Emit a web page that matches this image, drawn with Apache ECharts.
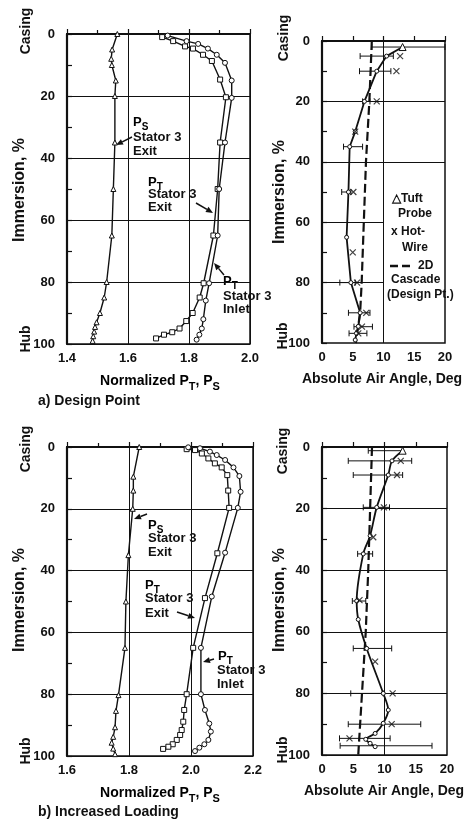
<!DOCTYPE html>
<html>
<head>
<meta charset="utf-8">
<script src="https://cdn.jsdelivr.net/npm/echarts@6/dist/echarts.min.js"></script>
<style>
  html, body { margin: 0; padding: 0; background: #fff; }
  #chart { width: 467px; height: 820px; }
</style>
</head>
<body>
<div id="chart"></div>
<script>
// ---- a) Design point: normalized pressures vs immersion ----
const aImmPS = [0, 5, 8, 10, 15, 20, 35, 50, 65, 80, 85, 90, 93, 94.5, 96, 97.5, 99];
const aPS    = [1.565, 1.548, 1.545, 1.547, 1.560, 1.557, 1.557, 1.552, 1.547, 1.530, 1.522, 1.508, 1.497, 1.492, 1.489, 1.486, 1.484];
const aImmEx = [1, 2.3, 4, 4.7, 6.7, 8.7, 14.7, 20.4, 35, 50, 65, 80.4, 85, 90, 92.6, 95, 96.2, 97, 98.2];
const aPTex  = [1.712, 1.748, 1.787, 1.813, 1.846, 1.875, 1.902, 1.921, 1.902, 1.894, 1.880, 1.848, 1.835, 1.812, 1.791, 1.769, 1.745, 1.718, 1.692];
const aImmIn = [0.5, 2.3, 3.2, 4.7, 6.7, 9.3, 15, 20.6, 35, 50, 65, 80.4, 86, 92, 95, 97, 98.6];
const aPTin  = [1.73, 1.792, 1.830, 1.862, 1.891, 1.918, 1.940, 1.940, 1.918, 1.899, 1.894, 1.866, 1.855, 1.847, 1.842, 1.834, 1.825];

// ---- a) Design point: absolute air angle ----
const aImmTuft = [2, 5, 10, 20, 30, 35, 50, 65, 80, 90, 94.5, 96.8, 99];
const aTuft    = [13.1, 10.5, 8.9, 6.9, 5.4, 4.5, 4.3, 4.0, 4.7, 6.2, 5.9, 5.6, 5.4];
const aImmHW   = [5, 10, 20, 30, 50, 70, 80, 90, 94.6, 96.8];
const aHW      = [12.7, 12.1, 8.9, 5.4, 5.1, 5.0, 5.7, 7.2, 6.5, 5.9];
const aImmErr  = [2, 5, 10, 20, 35, 50, 80, 90, 94.6, 96.8];
const aErrLo   = [8.1, 6.2, 6.1, 6.6, 3.5, 3.2, 2.9, 4.3, 5.2, 4.4];
const aErrHi   = [20, 11.6, 11.2, 7.8, 6.6, 4.7, 5.4, 7.8, 8.2, 7.3];
const aImmCas  = [0, 20, 40, 60, 80, 90, 100];
const aCas     = [8.1, 7.7, 7.15, 6.8, 6.45, 6.2, 5.5];

// ---- b) Increased loading: normalized pressures vs immersion ----
const bImmPS = [0, 9.6, 14.1, 20, 35, 50, 65, 80.3, 85.4, 90.7, 93.8, 95.7, 97.6, 99.4];
const bPS    = [1.833, 1.814, 1.814, 1.812, 1.798, 1.790, 1.787, 1.766, 1.758, 1.755, 1.749, 1.744, 1.749, 1.755];
const bImmEx = [0.7, 1.0, 2.1, 3.7, 5.3, 6.6, 9.1, 14.1, 19.7, 34.4, 48.9, 65, 80, 85.1, 88.9, 91.6, 93.2, 94.8, 96.2, 97, 97.7];
const bPTex  = [1.986, 2.013, 2.035, 2.056, 2.077, 2.099, 2.117, 2.120, 2.123, 2.085, 2.045, 2.007, 1.986, 1.978, 1.975, 1.970, 1.965, 1.954, 1.941, 1.927, 1.910];
const bImmIn = [0.1, 0.4, 1.5, 2.6, 4.2, 6.6, 9.4, 14.5, 19.7, 34.2, 48.4, 65, 80, 85.1, 89.5, 92.1, 94.8, 96.2, 97.3, 98.4];
const bPTin  = [1.991, 2.029, 2.061, 2.083, 2.110, 2.137, 2.156, 2.160, 2.151, 2.110, 2.067, 2.032, 2.032, 2.045, 2.059, 2.064, 2.056, 2.043, 2.027, 2.013];

// ---- b) Increased loading: absolute air angle ----
const bImmTuft = [1.2, 4.5, 9.1, 19.6, 28.8, 34.7, 50, 56, 65.4, 80, 85.4, 89.7, 93, 94.9, 96.2, 97.3];
const bTuft    = [12.9, 11.2, 10.6, 8.75, 7.7, 6.6, 5.55, 5.8, 7.15, 9.8, 10.6, 9.8, 8.5, 7.0, 7.7, 8.5];
const bImmHW   = [4.5, 9.1, 19.6, 29.3, 49.7, 69.7, 80, 90, 94.6];
const bHW      = [12.6, 12.0, 9.9, 8.2, 6.0, 8.5, 11.3, 11.15, 4.4];
const bImmErr  = [1.2, 4.5, 9.1, 19.6, 34.7, 50, 65.4, 80, 90, 94.6, 97];
const bErrLo   = [7.4, 4.2, 5.0, 6.6, 5.7, 4.85, 5.0, 4.6, 4.2, 2.8, 2.9];
const bErrHi   = [12.9, 14.35, 12.9, 10.8, 8.1, 7.0, 11.15, 9.8, 15.8, 10.9, 17.6];
const bImmCas  = [0, 20, 40, 60, 80, 90, 100];
const bCas     = [8.0, 7.7, 7.4, 7.0, 6.4, 6.1, 5.8];

const immTicks = [0, 20, 40, 60, 80, 100];

const FONT = "'Liberation Sans', Arial, Helvetica, sans-serif";
const INK = '#111';

function pts(xs, ys) { return xs.map((x, i) => [x, ys[i]]); }
function errRows(imm, lo, hi) { return imm.map((y, i) => [y, lo[i], hi[i]]); }

function curve(idx, vals, imm, symbol, size) {
  return {
    type: 'line', xAxisIndex: idx, yAxisIndex: idx,
    data: pts(vals, imm),
    symbol: symbol, symbolSize: size, showSymbol: true,
    lineStyle: { color: INK, width: 1.4 },
    itemStyle: { color: '#fff', borderColor: INK, borderWidth: 1 },
    z: 5, animation: false
  };
}

function tuftCurve(idx, vals, imm, smooth) {
  const d = pts(vals, imm).map((p, i) => i === 0
    ? { value: p, symbol: 'triangle', symbolSize: 7 }
    : { value: p });
  return {
    type: 'line', xAxisIndex: idx, yAxisIndex: idx, data: d,
    symbol: 'circle', symbolSize: 4, smooth: smooth,
    lineStyle: { color: INK, width: 1.8 },
    itemStyle: { color: '#fff', borderColor: INK, borderWidth: 1 },
    z: 6, animation: false
  };
}

function hotWire(idx, vals, imm) {
  return {
    type: 'scatter', xAxisIndex: idx, yAxisIndex: idx,
    data: pts(vals, imm),
    symbol: 'path://M0,0L10,10M10,0L0,10', symbolSize: 6,
    itemStyle: { color: 'none', borderColor: INK, borderWidth: 1.2 },
    z: 7, animation: false
  };
}

function errorBars(idx, rows) {
  return {
    type: 'custom', xAxisIndex: idx, yAxisIndex: idx,
    data: rows, encode: { x: [1, 2], y: 0 },
    renderItem: function (params, api) {
      const y = api.value(0), lo = api.value(1), hi = api.value(2);
      const a = api.coord([lo, y]), b = api.coord([hi, y]);
      const h = 3, st = { stroke: INK, lineWidth: 1 };
      return { type: 'group', children: [
        { type: 'line', shape: { x1: a[0], y1: a[1], x2: b[0], y2: b[1] }, style: st },
        { type: 'line', shape: { x1: a[0], y1: a[1] - h, x2: a[0], y2: a[1] + h }, style: st },
        { type: 'line', shape: { x1: b[0], y1: b[1] - h, x2: b[0], y2: b[1] + h }, style: st }
      ] };
    },
    z: 4, animation: false
  };
}

function cascade(idx, vals, imm, gridLines) {
  return {
    type: 'line', xAxisIndex: idx, yAxisIndex: idx,
    data: pts(vals, imm), symbol: 'none',
    lineStyle: { color: INK, width: 2.2, type: [9, 4] },
    z: 3, animation: false,
    markLine: {
      silent: true, symbol: 'none', animation: false,
      label: { show: false },
      lineStyle: { color: INK, width: 1, type: 'solid' },
      data: gridLines
    }
  };
}

function xAxisCfg(idx, min, max, interval, fmt, split) {
  return {
    type: 'value', gridIndex: idx, min: min, max: max, interval: interval,
    axisLine: { show: true, lineStyle: { color: INK, width: 2.2 } },
    axisTick: { show: true, inside: true, length: 5, lineStyle: { color: INK, width: 1.2 } },
    minorTick: { show: split, splitNumber: 2, length: 4, lineStyle: { color: INK, width: 1.2 } },
    axisLabel: { color: INK, fontFamily: FONT, fontWeight: 'bold', fontSize: 13, margin: 8, formatter: fmt },
    splitLine: { show: split, lineStyle: { color: INK, width: 1 } }
  };
}

function yAxisCfg(idx, split) {
  return {
    type: 'value', gridIndex: idx, min: immTicks[0], max: immTicks[immTicks.length - 1],
    interval: immTicks[1] - immTicks[0], inverse: true,
    axisLine: { show: true, lineStyle: { color: INK, width: 2.2 } },
    axisTick: { show: true, inside: true, length: 5, lineStyle: { color: INK, width: 1.2 } },
    minorTick: { show: true, splitNumber: 2, length: 5, lineStyle: { color: INK, width: 1.2 } },
    axisLabel: { color: INK, fontFamily: FONT, fontWeight: 'bold', fontSize: 13, margin: 12 },
    splitLine: { show: split, lineStyle: { color: INK, width: 1 } }
  };
}

const fmt1 = v => v.toFixed(1);
const fmt0 = v => String(v);

const rich = {
  a: { fontFamily: FONT, fontWeight: 'bold', fontSize: 14, color: INK, lineHeight: 16, verticalAlign: 'bottom' },
  s: { fontFamily: FONT, fontWeight: 'bold', fontSize: 11, color: INK, lineHeight: 11, verticalAlign: 'bottom', padding: [0, 0, -4, 0] },
  n: { fontFamily: FONT, fontWeight: 'bold', fontSize: 13, color: INK, lineHeight: 15, verticalAlign: 'bottom' },
  ns: { fontFamily: FONT, fontWeight: 'bold', fontSize: 10, color: INK, lineHeight: 10, verticalAlign: 'bottom', padding: [0, 0, -4, 0] }
};

function txt(x, y, s, size, opts) {
  return Object.assign({
    type: 'text', x: x, y: y, silent: true,
    style: { text: s, fontFamily: FONT, fontWeight: 'bold', fontSize: size, fill: INK,
             align: 'left', verticalAlign: 'middle' }
  }, opts || {});
}
function richTxt(x, y, s, align) {
  return { type: 'text', x: x, y: y, silent: true,
    style: { text: s, rich: rich, align: align || 'left', verticalAlign: 'middle' } };
}
function vtxt(x, y, s, size) {
  return { type: 'text', x: x, y: y, rotation: Math.PI / 2, silent: true,
    style: { text: s, fontFamily: FONT, fontWeight: 'bold', fontSize: size, fill: INK,
             align: 'center', verticalAlign: 'middle' } };
}
function arrow(x1, y1, x2, y2) {
  const ang = Math.atan2(y2 - y1, x2 - x1), L = 7, W = 3;
  const bx = x2 - L * Math.cos(ang), by = y2 - L * Math.sin(ang);
  const px = -Math.sin(ang) * W, py = Math.cos(ang) * W;
  return { type: 'group', silent: true, children: [
    { type: 'line', shape: { x1: x1, y1: y1, x2: bx, y2: by }, style: { stroke: INK, lineWidth: 1.5 } },
    { type: 'polygon', shape: { points: [[x2, y2], [bx + px, by + py], [bx - px, by - py]] }, style: { fill: INK } }
  ] };
}

const graphics = [
  // axis captions, design point
  vtxt(26, 31, 'Casing', 14), vtxt(20, 190, 'Immersion, %', 16), vtxt(26, 339, 'Hub', 14),
  vtxt(284, 38, 'Casing', 14), vtxt(280, 192, 'Immersion, %', 16), vtxt(283, 336, 'Hub', 14),
  richTxt(160, 380, '{a|Normalized P}{s|T}{a|, P}{s|S}', 'center'),
  txt(382, 379, 'Absolute Air Angle, Deg', 14, { style: { text: 'Absolute Air Angle, Deg', fontFamily: FONT, fontWeight: 'bold', fontSize: 14, fill: INK, align: 'center', verticalAlign: 'middle' } }),
  txt(38, 401, 'a) Design Point', 14),
  // curve annotations, design point
  richTxt(133, 121, '{n|P}{ns|S}'), txt(133, 137, 'Stator 3', 13), txt(133, 151, 'Exit', 13),
  arrow(132, 137, 116, 145),
  richTxt(148, 181, '{n|P}{ns|T}'), txt(148, 194, 'Stator 3', 13), txt(148, 207, 'Exit', 13),
  arrow(196, 203, 213, 213),
  richTxt(223, 280, '{n|P}{ns|T}'), txt(223, 296, 'Stator 3', 13), txt(223, 309, 'Inlet', 13),
  arrow(224, 275, 214, 263),
  // legend, design point angle panel
  txt(392, 199, '\u25B3Tuft', 12), txt(398, 214, 'Probe', 12),
  txt(391, 232, 'x Hot-', 12), txt(402, 248, 'Wire', 12),
  { type: 'line', silent: true, shape: { x1: 390, y1: 266, x2: 413, y2: 266 },
    style: { stroke: INK, lineWidth: 2.5, lineDash: [8, 4] } },
  txt(418, 266, '2D', 12), txt(391, 280, 'Cascade', 12), txt(387, 295, '(Design Pt.)', 12),

  // axis captions, increased loading
  vtxt(26, 449, 'Casing', 14), vtxt(20, 600, 'Immersion, %', 16), vtxt(26, 751, 'Hub', 14),
  vtxt(283, 451, 'Casing', 14), vtxt(280, 600, 'Immersion, %', 16), vtxt(283, 750, 'Hub', 14),
  richTxt(160, 792, '{a|Normalized P}{s|T}{a|, P}{s|S}', 'center'),
  { type: 'text', x: 384, y: 791, silent: true, style: { text: 'Absolute Air Angle, Deg', fontFamily: FONT, fontWeight: 'bold', fontSize: 14, fill: INK, align: 'center', verticalAlign: 'middle' } },
  txt(38, 812, 'b) Increased Loading', 14),
  // curve annotations, increased loading
  richTxt(148, 524, '{n|P}{ns|S}'), txt(148, 538, 'Stator 3', 13), txt(148, 552, 'Exit', 13),
  arrow(147, 514, 134, 519),
  richTxt(145, 584, '{n|P}{ns|T}'), txt(145, 598, 'Stator 3', 13), txt(145, 613, 'Exit', 13),
  arrow(177, 612, 195, 618),
  richTxt(218, 655, '{n|P}{ns|T}'), txt(217, 670, 'Stator 3', 13), txt(217, 684, 'Inlet', 13),
  arrow(214, 659, 203, 662)
];

const gridStyle = { show: true, borderColor: INK, borderWidth: 1.5, backgroundColor: 'transparent', containLabel: false };

const option = {
  backgroundColor: '#fff',
  animation: false,
  grid: [
    Object.assign({ left: 67, top: 34, width: 183, height: 310 }, gridStyle),
    Object.assign({ left: 322, top: 41, width: 123, height: 302 }, gridStyle),
    Object.assign({ left: 67, top: 447, width: 186, height: 309 }, gridStyle),
    Object.assign({ left: 322, top: 447, width: 125, height: 308 }, gridStyle)
  ],
  xAxis: [
    xAxisCfg(0, 1.4, 2.0, 0.2, fmt1, true),
    xAxisCfg(1, 0, 20, 5, fmt0, false),
    xAxisCfg(2, 1.6, 2.2, 0.2, fmt1, true),
    xAxisCfg(3, 0, 20, 5, fmt0, false)
  ],
  yAxis: [yAxisCfg(0, true), yAxisCfg(1, false), yAxisCfg(2, true), yAxisCfg(3, true)],
  graphic: graphics,
  series: [
    curve(0, aPS, aImmPS, 'triangle', 5),
    curve(0, aPTex, aImmEx, 'rect', 5),
    curve(0, aPTin, aImmIn, 'circle', 5),

    cascade(1, aCas, aImmCas, [
      { xAxis: 10 }, { yAxis: 20 }, { yAxis: 40 },
      [{ coord: [0, 60] }, { coord: [10, 60] }],
      [{ coord: [0, 80] }, { coord: [10, 80] }]
    ]),
    errorBars(1, errRows(aImmErr, aErrLo, aErrHi)),
    tuftCurve(1, aTuft, aImmTuft, false),
    hotWire(1, aHW, aImmHW),

    curve(2, bPS, bImmPS, 'triangle', 5),
    curve(2, bPTex, bImmEx, 'rect', 5),
    curve(2, bPTin, bImmIn, 'circle', 5),

    cascade(3, bCas, bImmCas, [{ xAxis: 10 }]),
    errorBars(3, errRows(bImmErr, bErrLo, bErrHi)),
    tuftCurve(3, bTuft, bImmTuft, 0.3),
    hotWire(3, bHW, bImmHW)
  ]
};

const chart = echarts.init(document.getElementById('chart'), null, { renderer: 'canvas' });
chart.setOption(option);
</script>
</body>
</html>
